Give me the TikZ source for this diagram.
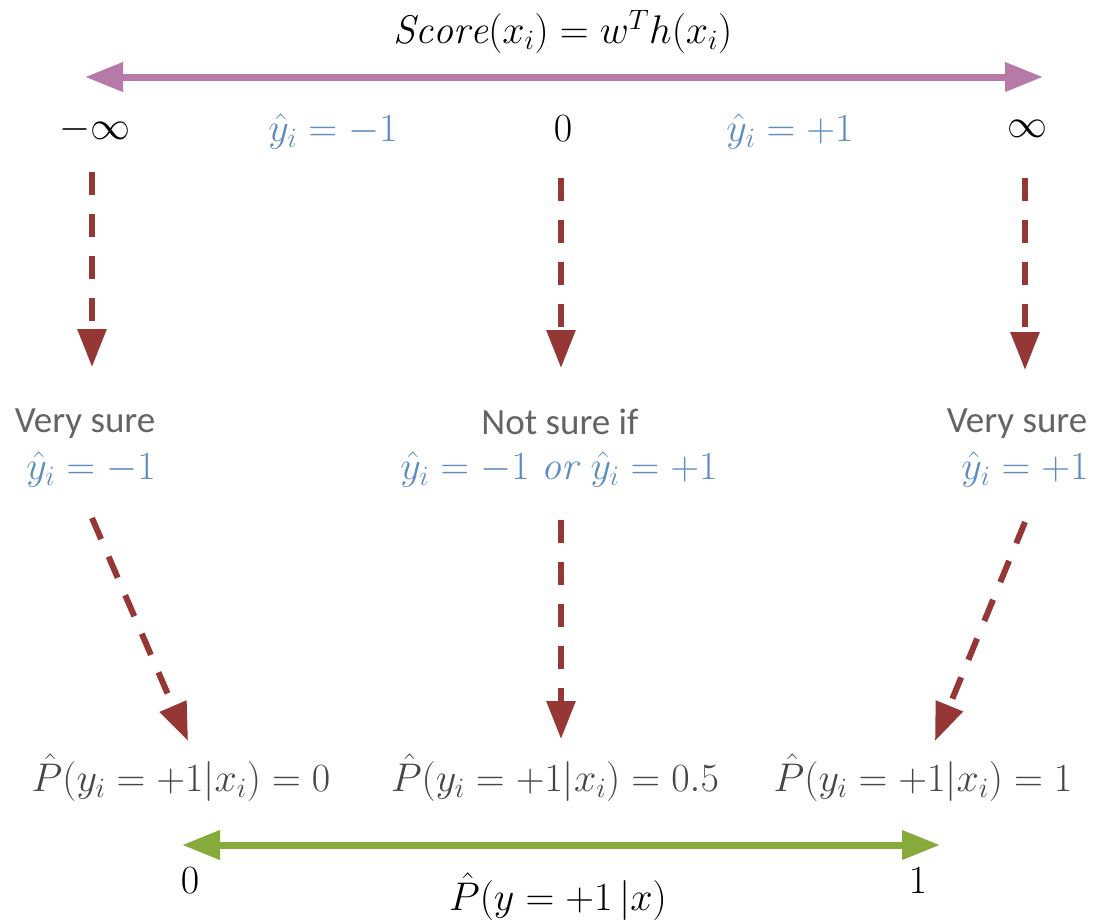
\RequirePackage{fix-cm}
\documentclass[tikz,border=0pt]{standalone}
\usepackage{amsmath}
\usepackage{fontspec}
\newfontfamily\carlito{Carlito}
\usetikzlibrary{arrows.meta}
\definecolor{purp}{RGB}{183,122,168}
\definecolor{dred}{RGB}{149,55,53}
\definecolor{grn}{RGB}{134,170,60}
\definecolor{blu}{RGB}{95,140,192}
\definecolor{gtext}{RGB}{100,100,100}
\definecolor{ptext}{RGB}{70,70,70}
\tikzset{
  mlab/.style={inner sep=0pt, font=\fontsize{40}{46}\selectfont},
  blab/.style={mlab, text=blu},
  tlab/.style={inner sep=0pt, font=\fontsize{37}{42}\selectfont\carlito, text=gtext},
  plab/.style={mlab, text=ptext},
  dasharrow/.style={draw=dred, line width=6pt, dash pattern=on 23pt off 19pt, -{Triangle[length=38pt,width=28pt]}},
  axis/.style={line width=7pt, {Triangle[length=38pt,width=28pt]}-{Triangle[length=38pt,width=28pt]}}
}
\begin{document}
\begin{tikzpicture}[x=1pt,y=-1pt]
\useasboundingbox (0,0) rectangle (1095,922);
% top
\node[mlab] (title) at (563,32) {$\mathit{Score}(x_i) = w^T h(x_i)$};
\coordinate (pl) at (85,77);
\coordinate (pr) at (1043,77);
\draw[axis, draw=purp] (pl) -- (pr);
\node[mlab] (ninf) at (95,129) {$-\infty$};
\node[blab] (ym) at (333,131) {$\hat{y}_i = -1$};
\node[mlab] (zero) at (563,129) {$0$};
\node[blab] (yp) at (790,131) {$\hat{y}_i = +1$};
\node[mlab] (pinf) at (1027,129) {$\infty$};
% middle
\node[tlab] (vs1) at (85,424) {Very sure};
\node[blab] (vs1y) at (91,469) {$\hat{y}_i = -1$};
\node[tlab] (ns) at (560,422) {Not sure if};
\node[blab] (nsy) at (559,469) {$\hat{y}_i = -1\ \mathit{or}\ \hat{y}_i = +1$};
\node[tlab] (vs2) at (1017,424) {Very sure};
\node[blab] (vs2y) at (1025,469) {$\hat{y}_i = +1$};
% arrow coordinates
\coordinate (a1s) at (92,172);
\coordinate (a1e) at (92,367);
\coordinate (a2s) at (561,178);
\coordinate (a2e) at (561,368);
\coordinate (a3s) at (1025,178);
\coordinate (a3e) at (1025,370);
\coordinate (b1s) at (92,518);
\coordinate (b1e) at (188,741);
\coordinate (b2s) at (561,520);
\coordinate (b2e) at (561,739);
\coordinate (b3s) at (1025,522);
\coordinate (b3e) at (935,741);
\draw[dasharrow] (a1s) -- (a1e);
\draw[dasharrow] (a2s) -- (a2e);
\draw[dasharrow] (a3s) -- (a3e);
\draw[dasharrow] (b1s) -- (b1e);
\draw[dasharrow] (b2s) -- (b2e);
\draw[dasharrow] (b3s) -- (b3e);
% bottom
\node[plab] (p0) at (181,778) {$\hat{P}(y_i = +1|x_i) = 0$};
\node[plab] (p5) at (555,778) {$\hat{P}(y_i = +1|x_i) = 0.5$};
\node[plab] (p1) at (923,778) {$\hat{P}(y_i = +1|x_i) = 1$};
\coordinate (gl) at (182,845);
\coordinate (gr) at (940,845);
\draw[axis, draw=grn] (gl) -- (gr);
\node[mlab] (g0) at (190,881) {$0$};
\node[mlab] (g1) at (918,881) {$1$};
\node[mlab] (gt) at (558,897) {$\hat{P}(y = +1\,|x)$};
\end{tikzpicture}
\end{document}
